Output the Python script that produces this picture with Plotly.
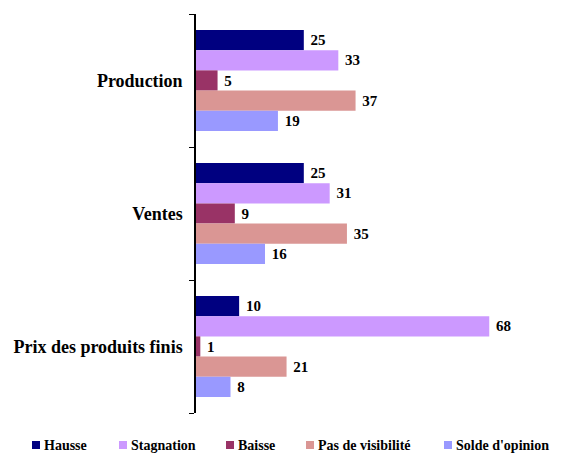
import plotly.graph_objects as go

categories = ["Production", "Ventes", "Prix des produits finis"]
series_names = ["Hausse", "Stagnation", "Baisse", "Pas de visibilité", "Solde d'opinion"]
hausse = [25, 25, 10]
stagnation = [33, 31, 68]
baisse = [5, 9, 1]
pas_visibilite = [37, 35, 21]
solde = [19, 16, 8]
values = [hausse, stagnation, baisse, pas_visibilite, solde]
colors = ["#000080", "#CC99FF", "#993366", "#DA9694", "#9999FF"]

W, H = 563, 453
ML, MR, MT, MB = 196, 22, 14, 40
PW, PH = W - ML - MR, H - MT - MB

fig = go.Figure()
for name, vals, col in zip(series_names, values, colors):
    fig.add_trace(go.Bar(
        y=categories, x=vals, name=name, orientation="h",
        marker=dict(color=col, line=dict(width=0)),
        texttemplate="<b> %{x}</b>", textposition="outside", cliponaxis=False,
        textfont=dict(family="Liberation Serif", size=15, color="black"),
        showlegend=False,
    ))

# manual legend (small squares + labels) placed below the plot
legend_sym_px = [32, 119, 226, 306, 444]
legend_y_px = 445
def px_x(px):
    return (px - ML) / PW
def px_y(py):
    return (H - MB - py) / PH
for name, col, sx in zip(series_names, colors, legend_sym_px):
    fig.add_shape(type="rect", xref="paper", yref="paper",
                  x0=px_x(sx), x1=px_x(sx + 8),
                  y0=px_y(legend_y_px + 4), y1=px_y(legend_y_px - 4),
                  fillcolor=col, line=dict(width=0))
    fig.add_annotation(xref="paper", yref="paper", x=px_x(sx + 10), y=px_y(legend_y_px),
                       xanchor="left", yanchor="middle", showarrow=False,
                       text=f"<b>{name}</b>",
                       font=dict(family="Liberation Serif", size=14, color="black"))

fig.update_layout(
    width=W, height=H,
    margin=dict(l=ML, r=MR, t=MT, b=MB, autoexpand=False),
    barmode="group", bargap=0.24, bargroupgap=0,
    plot_bgcolor="white", paper_bgcolor="white",
    font=dict(family="Liberation Serif", color="black"),
    showlegend=False,
)
fig.update_xaxes(range=[0, 80], visible=False)
fig.update_yaxes(
    autorange="reversed", showline=True, linecolor="black", linewidth=1.5,
    ticks="outside", ticklen=5, tickcolor="black", tickson="boundaries",
    tickvals=categories, ticktext=[f"<b>{c}</b>" for c in categories],
    tickfont=dict(family="Liberation Serif", size=18, color="black"),
    showgrid=False, ticklabelstandoff=8,
)
fig.write_html("out.html", config={"displayModeBar": False},
               post_script="document.body.style.margin='0';")
